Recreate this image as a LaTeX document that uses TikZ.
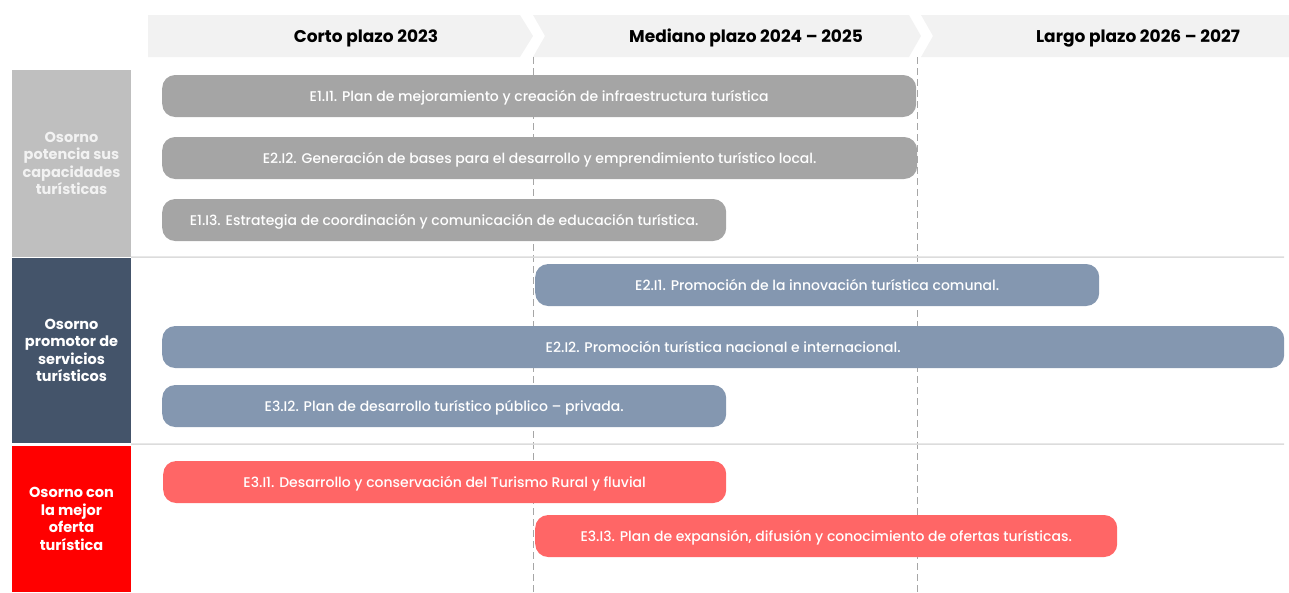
\documentclass[tikz,border=0pt]{standalone}
\usepackage{fontspec}
\setmainfont{Poppins}
\newfontfamily\medfont{Poppins Medium}

\definecolor{headgray}{HTML}{F2F2F2}
\definecolor{catA}{HTML}{BFBFBF}
\definecolor{catB}{HTML}{44546A}
\definecolor{catC}{HTML}{FF0000}
\definecolor{barA}{HTML}{A5A5A5}
\definecolor{barB}{HTML}{8497B0}
\definecolor{barC}{HTML}{FF6666}
\definecolor{dashgray}{HTML}{A6A6A6}
\definecolor{rulegray}{HTML}{DCDCDC}

\tikzset{
  bar/.style={rounded corners=13pt,minimum height=42pt,anchor=west,inner sep=0pt,
    text height=13pt,text depth=2pt,text=white,font=\medfont\fontsize{14}{16}\selectfont},
  cat/.style={minimum width=119pt,inner sep=0pt,align=center,
    font=\bfseries\fontsize{14.5}{17.5}\selectfont}
}

\begin{document}
\begin{tikzpicture}[x=1pt,y=-1pt]
\useasboundingbox (0,0) rectangle (1289,592);

      \fill[headgray] (148,15) -- (520,15) -- (533,36) -- (520,57) -- (148,57) -- cycle;
      \fill[headgray] (533,15) -- (909,15) -- (921,36) -- (909,57) -- (533,57) -- (545,36) -- cycle;
      \fill[headgray] (921,15) -- (1289,15) -- (1289,57) -- (921,57) -- (933,36) -- cycle;

      \begin{scope}[every node/.style={text height=15pt,text depth=2pt,
          font=\bfseries\fontsize{17}{19}\selectfont}]
        \node (h1) at (366,36) {Corto plazo 2023};
        \node (h2) at (746,36) {Mediano plazo 2024 – 2025};
        \node (h3) at (1138,36) {Largo plazo 2026 – 2027};
      \end{scope}

      \coordinate (d1) at (533,57);
      \coordinate (d1e) at (533,592);
      \coordinate (d2) at (917,57);
      \coordinate (d2e) at (917,592);
      \draw[dashgray,line width=1pt,dash pattern=on 7pt off 4pt] (d1) -- (d1e);
      \draw[dashgray,line width=1pt,dash pattern=on 7pt off 4pt] (d2) -- (d2e);

      \node[cat,fill=catA,text=headgray,minimum height=187pt] (c1) at (71.5,163.5)
        {Osorno\\potencia sus\\capacidades\\turísticas};
      \node[cat,fill=catB,text=white,minimum height=185pt] (c2) at (71.5,350.5)
        {Osorno\\promotor de\\servicios\\turísticos};
      \node[cat,fill=catC,text=white,minimum height=146pt] (c3) at (71.5,519)
        {Osorno con\\la mejor\\oferta\\turística};

      \coordinate (r1) at (1284,257);
      \coordinate (r2) at (1284,444);
      \draw[rulegray,line width=1.5pt] (c1.south east) -- (r1);
      \draw[rulegray,line width=1.5pt] (c2.south east) ++(0,1) -- (r2);

      \begin{scope}[every node/.style={bar,fill=barA}]
        \node[minimum width=754pt] (b1) at (162,96) {E1.I1. Plan de mejoramiento y creación de infraestructura turística};
        \node[minimum width=755pt] (b2) at (162,158) {E2.I2. Generación de bases para el desarrollo y emprendimiento turístico local.};
        \node[minimum width=564pt] (b3) at (162,220) {E1.I3. Estrategia de coordinación y comunicación de educación turística.};
      \end{scope}

      \begin{scope}[every node/.style={bar,fill=barB}]
        \node[minimum width=564pt] (b4) at (535,285) {E2.I1. Promoción de la innovación turística comunal.};
        \node[minimum width=1122pt] (b5) at (162,347) {E2.I2. Promoción turística nacional e internacional.};
        \node[minimum width=564pt] (b6) at (162,406) {E3.I2. Plan de desarrollo turístico público – privada.};
      \end{scope}

      \begin{scope}[every node/.style={bar,fill=barC}]
        \node[minimum width=563pt] (b7) at (163,482) {E3.I1. Desarrollo y conservación del Turismo Rural y fluvial};
        \node[minimum width=582pt] (b8) at (535,536) {E3.I3. Plan de expansión, difusión y conocimiento de ofertas turísticas.};
      \end{scope}

    \end{tikzpicture}
\end{document}
